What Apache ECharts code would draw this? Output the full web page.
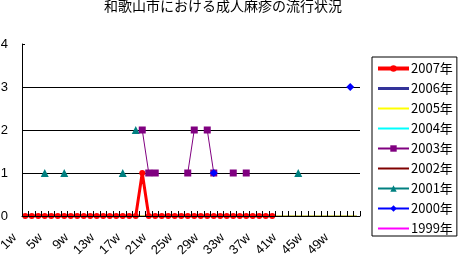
<!DOCTYPE html>
<html><head><meta charset="utf-8">
<script src="https://cdn.jsdelivr.net/npm/echarts@6/dist/echarts.min.js"></script>
<style>html,body{margin:0;padding:0;background:#fff}#c{width:461px;height:259px}</style>
</head><body><div id="c"></div>
<script>
var titleText = '和歌山市における成人麻疹の流行状況';
var weeks = [];
for (var i = 1; i <= 52; i++) weeks.push(i + 'w');
var yTicks = [0, 1, 2, 3, 4];
var N = null;
var y2007 = [0,0,0,0,0,0,0,0,0,0,0,0,0,0,0,0,0,0,1,0,0,0,0,0,0,0,0,0,0,0,0,0,0,0,0,0,0,0,0];
var y2006 = [0,0,0,0,0,0,0,0,0,0,0,0,0,0,0,0,0,0,0,0,0,0,0,0,0,0,0,0,0,0,0,0,0,0,0,0,0,0,0,0,0,0,0,0,0,0,0,0,0,0,0,0];
var y2005 = [0,0,0,0,0,0,0,0,0,0,0,0,0,0,0,0,0,0,0,0,0,0,0,0,0,0,0,0,0,0,0,0,0,0,0,0,0,0,0,0,0,0,0,0,0,0,0,0,0,0,0,0];
var y2004 = [];
var y2003 = [N,N,N,N,N,N,N,N,N,N,N,N,N,N,N,N,N,N,2,1,1,N,N,N,N,1,2,N,2,1,N,N,1,N,1];
var y2002 = [];
var y2001 = [N,N,N,1,N,N,1,N,N,N,N,N,N,N,N,1,N,2,N,N,N,N,N,N,N,N,N,N,N,N,N,N,N,N,N,N,N,N,N,N,N,N,1];
var y2000 = [N,N,N,N,N,N,N,N,N,N,N,N,N,N,N,N,N,N,N,N,N,N,N,N,N,N,N,N,N,1,N,N,N,N,N,N,N,N,N,N,N,N,N,N,N,N,N,N,N,N,3];
var y1999 = [];

var chart = echarts.init(document.getElementById('c'), null, {renderer: 'canvas'});
var ff = '"Noto Sans CJK JP", sans-serif';
function s(name, data, color, width, symbol, size, z) {
  return {
    name: name, type: 'line', data: data, z: z,
    symbol: symbol || 'circle', symbolSize: size || 0, showSymbol: !!symbol, showAllSymbol: true,
    lineStyle: {color: color, width: width},
    itemStyle: {color: color},
    emphasis: {disabled: true}, animation: false
  };
}
var clear = {color: 'rgba(0,0,0,0)', borderWidth: 0};
chart.setOption({
  animation: false,
  title: {text: titleText, left: 104, top: -1, padding: 0,
    textStyle: {fontFamily: ff, fontSize: 14, fontWeight: 'normal', color: '#000'}},
  grid: {left: 22, right: 101, top: 44, bottom: 43, containLabel: false, outerBoundsMode: 'none'},
  legend: {
    orient: 'vertical', left: 372, top: 57, width: 88,
    padding: [5, 4, 1, 4], itemGap: 7, itemWidth: 31, itemHeight: 8,
    borderColor: '#000', borderWidth: 1, backgroundColor: '#fff',
    textStyle: {fontFamily: ff, fontSize: 13, color: '#000', padding: [0,0,0,-3]},
    data: [
      {name: '2007年', lineStyle: {width: 4}},
      {name: '2006年', itemStyle: clear, lineStyle: {width: 3}},
      {name: '2005年', itemStyle: clear},
      {name: '2004年', itemStyle: clear},
      {name: '2003年'},
      {name: '2002年', itemStyle: clear},
      {name: '2001年'},
      {name: '2000年'},
      {name: '1999年', itemStyle: clear}
    ]
  },
  xAxis: {
    type: 'category', data: weeks, boundaryGap: true, z: 20,
    axisLine: {show: true, lineStyle: {color: '#000', width: 1}},
    axisTick: {show: true, inside: true, length: 5, interval: 0, lineStyle: {color: '#000', width: 1}},
    axisLabel: {interval: 3, rotate: 45, color: '#000', fontSize: 13, margin: 9,
      padding: [0, 15, 0, 0], fontFamily: '"Liberation Sans", sans-serif'}
  },
  yAxis: {
    type: 'value', min: yTicks[0], max: yTicks[yTicks.length-1], interval: 1,
    axisLine: {show: true, lineStyle: {color: '#000'}},
    axisTick: {show: true, inside: true, length: 3, lineStyle: {color: '#000'}},
    axisLabel: {color: '#000', fontSize: 13, margin: 14, fontFamily: '"Liberation Sans", sans-serif'},
    splitLine: {show: true, lineStyle: {color: ['transparent','#000','#000','#000','transparent'], width: 1}}
  },
  series: [
    s('2007年', y2007, '#FF0000', 3, 'circle', 6, 10),
    s('2006年', y2006, '#333399', 1, null, 0, 3),
    s('2005年', y2005, '#FFFF00', 1, null, 0, 4),
    s('2004年', y2004, '#00FFFF', 1, null, 0, 2),
    s('2003年', y2003, '#800080', 1, 'rect', 7, 6),
    s('2002年', y2002, '#800000', 1, null, 0, 2),
    s('2001年', y2001, '#008080', 1, 'triangle', 8, 5),
    s('2000年', y2000, '#0000FF', 1, 'diamond', 8, 7),
    s('1999年', y1999, '#FF00FF', 1, null, 0, 2)
  ]
});
</script></body></html>
